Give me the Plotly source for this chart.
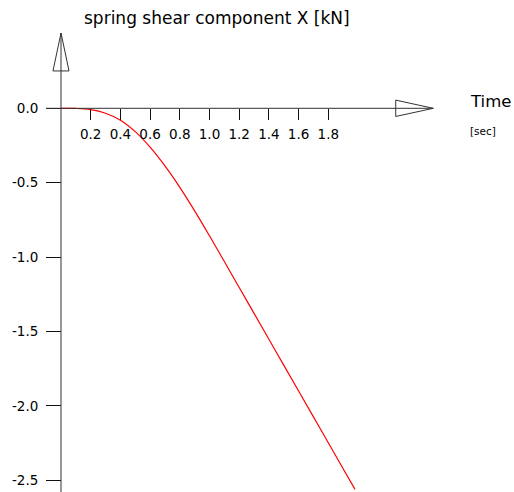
import plotly.graph_objects as go

# ---- data ----
time_s = [0.0, 0.1, 0.2, 0.3, 0.4, 0.5, 0.6, 0.7, 0.8, 0.9, 1.0,
          1.1, 1.2, 1.3, 1.4, 1.5, 1.6, 1.7, 1.8, 1.9, 1.98]
shear_kN = [0.0, -0.001, -0.009, -0.033, -0.080, -0.157, -0.261, -0.387,
            -0.531, -0.689, -0.857, -1.030, -1.204, -1.378, -1.552,
            -1.726, -1.900, -2.074, -2.248, -2.422, -2.561]

x_tick_vals = [0.2, 0.4, 0.6, 0.8, 1.0, 1.2, 1.4, 1.6, 1.8]
x_tick_text = ["0.2", "0.4", "0.6", "0.8", "1.0", "1.2", "1.4", "1.6", "1.8"]
y_tick_vals = [0.0, -0.5, -1.0, -1.5, -2.0, -2.5]
y_tick_text = ["0.0", "-0.5", "-1.0", "-1.5", "-2.0", "-2.5"]

title_text = "spring shear component X [kN]"
x_title = "Time"
x_unit = "[sec]"

# ---- layout geometry ----
W, H = 514, 492
PX_PER_UNIT_X = 148.5
PX_PER_UNIT_Y = 148.8
ORIGIN_PX = (61, 108.3)

x_range = [-ORIGIN_PX[0] / PX_PER_UNIT_X, (W - ORIGIN_PX[0]) / PX_PER_UNIT_X]
y_range = [-(H - ORIGIN_PX[1]) / PX_PER_UNIT_Y, ORIGIN_PX[1] / PX_PER_UNIT_Y]

FONT = "DejaVu Sans"
AXIS_COLOR = "#333333"
TEXT_COLOR = "#000000"

fig = go.Figure()
fig.add_trace(go.Scatter(x=time_s, y=shear_kN, mode="lines",
                         line=dict(color="#ff0000", width=1.2, shape="spline"),
                         hoverinfo="skip", showlegend=False))

# axis extents (data units)
x_axis_start, x_axis_end = -0.101, 2.507
x_arrow_base, x_arrow_half = 2.254, 0.055
y_axis_top = 0.506
y_arrow_base, y_arrow_half = 0.251, 0.054

shapes = [
    dict(type="line", x0=x_axis_start, x1=x_axis_end, y0=0, y1=0,
         line=dict(color=AXIS_COLOR, width=1)),
    dict(type="line", x0=0, x1=0, y0=y_range[0] - 0.1, y1=y_axis_top,
         line=dict(color=AXIS_COLOR, width=1)),
    dict(type="path",
         path=f"M {x_arrow_base},{x_arrow_half} L {x_axis_end},0 L {x_arrow_base},{-x_arrow_half} Z",
         line=dict(color=AXIS_COLOR, width=1), fillcolor="rgba(0,0,0,0)"),
    dict(type="path",
         path=f"M {-y_arrow_half},{y_arrow_base} L 0,{y_axis_top} L {y_arrow_half},{y_arrow_base} Z",
         line=dict(color=AXIS_COLOR, width=1), fillcolor="rgba(0,0,0,0)"),
]

annotations = [
    dict(text=title_text, x=82.3 / W, y=1 - 18 / H, xref="paper", yref="paper",
         xanchor="left", yanchor="middle", showarrow=False,
         font=dict(family=FONT, size=17, color=TEXT_COLOR)),
    dict(text=x_title, x=467.5 / W, y=1 - 101.5 / H, xref="paper", yref="paper",
         xanchor="left", yanchor="middle", showarrow=False,
         font=dict(family=FONT, size=16.5, color=TEXT_COLOR)),
    dict(text=x_unit, x=467.5 / W, y=1 - 130.5 / H, xref="paper", yref="paper",
         xanchor="left", yanchor="middle", showarrow=False,
         font=dict(family=FONT, size=10.5, color=TEXT_COLOR)),
]

fig.update_layout(
    width=W, height=H,
    margin=dict(l=0, r=0, t=0, b=0),
    paper_bgcolor="white", plot_bgcolor="white",
    shapes=shapes, annotations=annotations,
    xaxis=dict(range=x_range, showgrid=False, zeroline=False, showline=False,
               anchor="free", position=1 - ORIGIN_PX[1] / H,
               tickmode="array", tickvals=x_tick_vals, ticktext=x_tick_text,
               ticks="outside", ticklen=11, tickwidth=1, tickcolor="#111111",
               ticklabelstandoff=2,
               tickfont=dict(family=FONT, size=13.5, color=TEXT_COLOR)),
    yaxis=dict(range=y_range, showgrid=False, zeroline=False, showline=False,
               anchor="free", position=ORIGIN_PX[0] / W,
               tickmode="array", tickvals=y_tick_vals, ticktext=y_tick_text,
               ticks="outside", ticklen=15, tickwidth=1, tickcolor="#111111",
               ticklabelstandoff=5,
               tickfont=dict(family=FONT, size=13.5, color=TEXT_COLOR)),
)

fig.write_html("out.html")
